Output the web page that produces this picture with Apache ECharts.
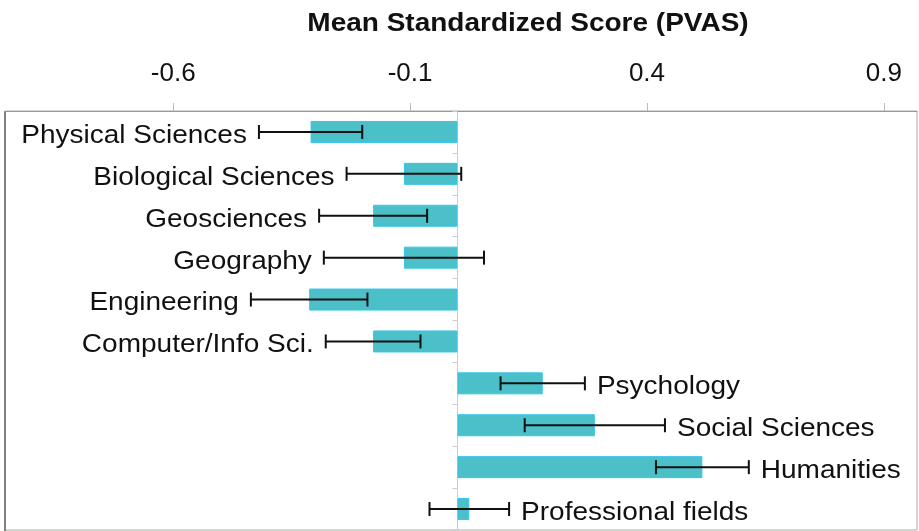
<!DOCTYPE html>
<html>
<head>
<meta charset="utf-8">
<script src="https://cdn.jsdelivr.net/npm/echarts@6/dist/echarts.min.js"></script>
<style>
  html, body { margin: 0; padding: 0; background: #fff; }
  #chart { width: 919px; height: 531px; }
</style>
</head>
<body>
<div id="chart"></div>
<script>
// fields, top to bottom
const fields = [
  'Physical Sciences', 'Biological Sciences', 'Geosciences', 'Geography',
  'Engineering', 'Computer/Info Sci.', 'Psychology', 'Social Sciences',
  'Humanities', 'Professional fields'
];
// mean standardized score
const means = [-0.31, -0.113, -0.178, -0.113, -0.313, -0.178, 0.18, 0.29, 0.517, 0.025];
// error bar half width
const errors = [0.109, 0.121, 0.114, 0.169, 0.123, 0.1, 0.089, 0.148, 0.098, 0.084];
// axis ticks
const tickValues = [-0.6, -0.1, 0.4, 0.9];

const labelFont = '25px "Liberation Sans", Arial, sans-serif';
const stretch = 1.12;

const chart = echarts.init(document.getElementById('chart'));

const errData = fields.map((f, i) => [means[i], f, errors[i]]);

const option = {
  animation: false,
  graphic: [
    {
      type: 'text',
      x: 528,
      y: 24,
      scaleX: stretch,
      style: {
        text: 'Mean Standardized Score (PVAS)',
        font: 'bold 25px "Liberation Sans", Arial, sans-serif',
        fill: '#111',
        align: 'center',
        verticalAlign: 'middle'
      }
    },
    {
      // darker left frame edge
      type: 'line',
      shape: { x1: 5, y1: 111, x2: 5, y2: 531 },
      style: { stroke: '#808080', lineWidth: 2 }
    }
  ],
  grid: {
    left: 5, right: 2, top: 111, bottom: 1,
    show: true,
    borderColor: '#aaa',
    borderWidth: 1
  },
  xAxis: {
    type: 'value',
    position: 'top',
    min: -0.955,
    max: 0.97,
    splitLine: { show: false },
    axisLine: { show: true, lineStyle: { color: '#999' } },
    axisTick: {
      show: true,
      length: 8,
      customValues: tickValues,
      lineStyle: { color: '#bbb' }
    },
    axisLabel: {
      customValues: tickValues,
      margin: 24,
      fontSize: 26,
      fontFamily: '"Liberation Sans", Arial, sans-serif',
      color: '#111'
    }
  },
  yAxis: {
    type: 'category',
    inverse: true,
    data: fields,
    axisLine: { show: true, onZero: true, lineStyle: { color: '#ccc' } },
    axisTick: { show: true, length: 5, lineStyle: { color: '#ccc' } },
    axisLabel: { show: false }
  },
  series: [
    {
      type: 'bar',
      data: means,
      barWidth: 22,
      itemStyle: {
        color: '#4bc0c8',
        borderColor: '#33c6ee',
        borderWidth: 1
      }
    },
    {
      type: 'custom',
      data: errData,
      encode: { x: 0, y: 1 },
      z: 5,
      renderItem: function (params, api) {
        const m = api.value(0);
        const cat = api.value(1);
        const e = api.value(2);
        const lo = api.coord([m - e, cat]);
        const hi = api.coord([m + e, cat]);
        const y = lo[1];
        const cap = 7;
        const lineStyle = { stroke: '#111', lineWidth: 2 };
        const neg = m < 0;
        return {
          type: 'group',
          children: [
            { type: 'line', shape: { x1: lo[0], y1: y, x2: hi[0], y2: y }, style: lineStyle },
            { type: 'line', shape: { x1: lo[0], y1: y - cap, x2: lo[0], y2: y + cap }, style: lineStyle },
            { type: 'line', shape: { x1: hi[0], y1: y - cap, x2: hi[0], y2: y + cap }, style: lineStyle },
            {
              type: 'text',
              x: neg ? lo[0] - 12 : hi[0] + 12,
              y: y + 4,
              scaleX: stretch,
              style: {
                text: fields[params.dataIndex],
                font: labelFont,
                fill: '#111',
                align: neg ? 'right' : 'left',
                verticalAlign: 'middle'
              }
            }
          ]
        };
      }
    }
  ]
};

chart.setOption(option);
window.addEventListener('resize', function () { chart.resize(); });
</script>
</body>
</html>
